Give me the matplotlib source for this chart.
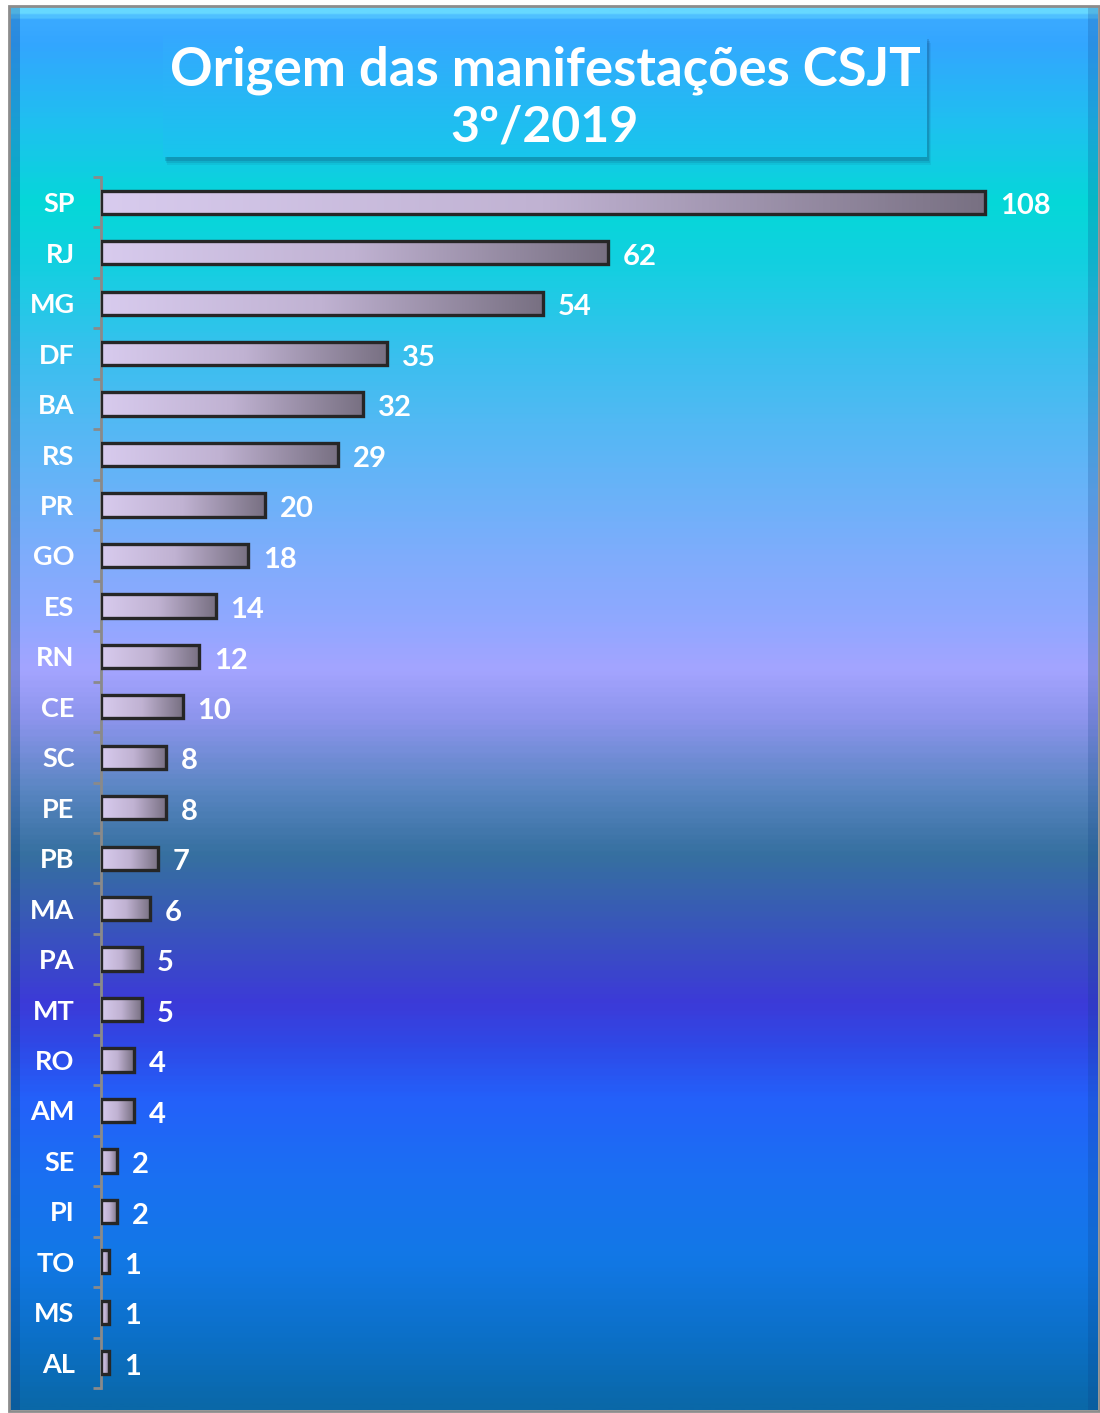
import numpy as np
import matplotlib
matplotlib.use("Agg")
import matplotlib.pyplot as plt
import matplotlib.transforms as mtransforms
from matplotlib.colors import LinearSegmentedColormap
from matplotlib.patches import Rectangle

# data, top to bottom as in the chart
states = ["SP", "RJ", "MG", "DF", "BA", "RS", "PR", "GO", "ES", "RN", "CE", "SC",
          "PE", "PB", "MA", "PA", "MT", "RO", "AM", "SE", "PI", "TO", "MS", "AL"]
counts = [108, 62, 54, 35, 32, 29, 20, 18, 14, 12, 10, 8,
          8, 7, 6, 5, 5, 4, 4, 2, 2, 1, 1, 1]
title_lines = ["Origem das manifestações CSJT", "3º/2019"]

W, H = 1100, 1413
plt.rcParams['font.family'] = ['Lato', 'DejaVu Sans']

fig = plt.figure(figsize=(W / 100, H / 100), dpi=100)
fig.patch.set_facecolor('white')

# background panel with vertical gradient (pixel coordinates)
bg = fig.add_axes([0, 0, 1, 1], zorder=0)
bg.set_xlim(0, W)
bg.set_ylim(H, 0)
bg.axis('off')

stops = [(7, '#66d8ff'), (18, '#3aaaff'), (40, '#33a6ff'), (120, '#1fc0f0'),
         (200, '#05d8d8'), (260, '#12d0e0'), (350, '#38c0ee'), (450, '#5cb6f6'),
         (560, '#80acfc'), (620, '#90a8ff'), (670, '#a4a4ff'), (720, '#8c94ec'),
         (790, '#5a86c2'), (855, '#3670a0'), (910, '#385cb4'), (1005, '#3c3ad8'),
         (1050, '#2e4ae8'), (1100, '#2460fa'), (1180, '#1a70f2'), (1260, '#1278e6'),
         (1340, '#0c70c8'), (1410, '#0a68a8')]
y0, y1 = stops[0][0], stops[-1][0]
bg_cmap = LinearSegmentedColormap.from_list(
    'bg', [((y - y0) / (y1 - y0), c) for y, c in stops])
grad = np.linspace(0, 1, 600).reshape(-1, 1)
bg.imshow(grad, cmap=bg_cmap, extent=(10, 1098, y1, y0), aspect='auto', zorder=0)
# darker edges of the panel
bg.add_patch(Rectangle((10, 7), 10, y1 - 7, color='#0a3a80', alpha=0.25, lw=0, zorder=1))
bg.add_patch(Rectangle((1088, 7), 10, y1 - 7, color='#0a3a80', alpha=0.2, lw=0, zorder=1))
bg.add_patch(Rectangle((9, 6), 1090, y1 - 5, fill=False, ec='#8c8c8c', lw=2, zorder=2))

# title box with shadow
bx0, by0, bx1, by1 = 163, 35, 927, 157
for k, a in [(8, 0.08), (6, 0.12), (4, 0.18)]:
    bg.add_patch(Rectangle((bx0 + k / 2, by0 + k), bx1 - bx0, by1 - by0,
                           color='#0a3a60', alpha=a, lw=0, zorder=3))
title_cmap = LinearSegmentedColormap.from_list('tb', ['#35a8ff', '#18c6ec'])
box = Rectangle((bx0, by0), bx1 - bx0, by1 - by0, fill=False, lw=0, zorder=4)
bg.add_patch(box)
im = bg.imshow(grad, cmap=title_cmap, extent=(bx0, bx1, by1, by0), aspect='auto', zorder=4)
im.set_clip_path(box)
bg.set_xlim(0, W)
bg.set_ylim(H, 0)
bg.text(545, 70, title_lines[0], ha='center', va='center', color='white',
        fontsize=38, fontweight='bold', zorder=5)
bg.text(545, 127, title_lines[1], ha='center', va='center', color='white',
        fontsize=36, fontweight='bold', zorder=5)

# bar chart
ax = fig.add_axes([101 / W, 1 - 1388 / H, 974 / W, (1388 - 177) / H], zorder=2)
ax.set_facecolor('none')
n = len(states)
ypos = np.arange(n)
bar_h = 0.46
bars = ax.barh(ypos, counts, height=bar_h, color='none', edgecolor='#262626',
               linewidth=2.4, zorder=3)

bar_cmap = LinearSegmentedColormap.from_list('bar', ['#d8cbee', '#c0b2d2', '#787082'])
hgrad = np.linspace(0, 1, 256).reshape(1, -1)
label_tr = mtransforms.offset_copy(ax.transData, fig=fig, x=0, y=-3, units='points')
for b, v, y in zip(bars, counts, ypos):
    img = ax.imshow(hgrad, cmap=bar_cmap, aspect='auto', zorder=2,
                    extent=(0, v, y + bar_h / 2, y - bar_h / 2))
    img.set_clip_path(b)
    ax.text(v + 1.8, y, str(v), ha='left', va='center', color='white',
            fontsize=21, fontweight='bold', zorder=4, transform=label_tr)

ax.set_xlim(0, 974 / (884 / 108))
ax.set_ylim(n - 0.5, -0.5)
ax.set_yticks(ypos)
ax.set_yticklabels(states, color='white', fontsize=19.5, fontweight='bold')
ax.tick_params(axis='y', which='major', length=0, pad=19)
ax.set_yticks(np.arange(-0.5, n, 1), minor=True)
ax.tick_params(axis='y', which='minor', length=6, width=2, color='#8a8a8a')
ax.set_xticks([])
for s in ['top', 'right', 'bottom']:
    ax.spines[s].set_visible(False)
ax.spines['left'].set_color('#8a8a8a')
ax.spines['left'].set_linewidth(2)

fig.savefig('out.png', dpi=100)
